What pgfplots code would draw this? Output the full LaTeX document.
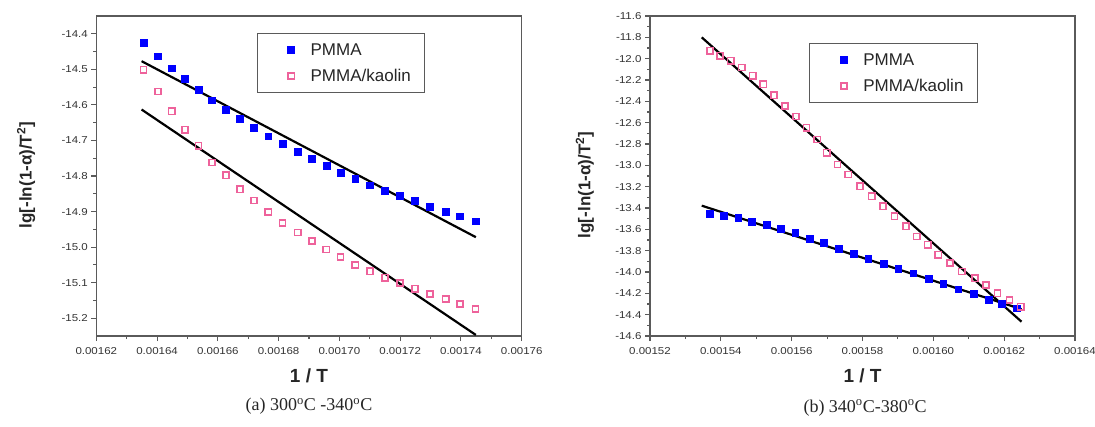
\documentclass[border=0pt]{standalone}
\usepackage{fontspec}
\setmainfont{Liberation Sans}
\newfontfamily\serifcap{Liberation Serif}
\newfontfamily\tickfont[FakeStretch=1.15]{Liberation Sans}
\usepackage{pgfplots}
\pgfplotsset{compat=1.18}
\usepackage{pgfplotstable}

\definecolor{pmmablue}{RGB}{0,0,255}
\definecolor{kaopink}{RGB}{238,98,155}
\definecolor{axgray}{RGB}{90,90,90}

\pgfplotstableread{
x yb yp
0.0016355 -14.425 -14.501
0.0016403 -14.463 -14.562
0.0016448 -14.497 -14.618
0.0016492 -14.526 -14.670
0.0016536 -14.557 -14.715
0.0016581 -14.587 -14.762
0.0016627 -14.613 -14.798
0.0016673 -14.639 -14.837
0.0016719 -14.665 -14.869
0.0016766 -14.688 -14.901
0.0016813 -14.710 -14.932
0.0016863 -14.732 -14.959
0.0016910 -14.752 -14.983
0.0016957 -14.771 -15.007
0.0017004 -14.790 -15.028
0.0017052 -14.808 -15.050
0.0017101 -14.826 -15.068
0.0017150 -14.841 -15.086
0.0017199 -14.855 -15.101
0.0017249 -14.870 -15.117
0.0017298 -14.886 -15.132
0.0017350 -14.901 -15.146
0.0017397 -14.913 -15.160
0.0017448 -14.927 -15.174
}\leftdata

\pgfplotstableread{
x y
0.0015369 -13.450
0.0015407 -13.474
0.0015449 -13.493
0.0015488 -13.528
0.0015529 -13.555
0.0015568 -13.596
0.0015610 -13.634
0.0015652 -13.685
0.0015691 -13.724
0.0015733 -13.782
0.0015774 -13.826
0.0015816 -13.874
0.0015859 -13.921
0.0015901 -13.968
0.0015943 -14.011
0.0015986 -14.060
0.0016028 -14.111
0.0016070 -14.161
0.0016113 -14.205
0.0016156 -14.262
0.0016194 -14.300
0.0016235 -14.340
}\rightblue

\pgfplotstableread{
x y
0.0015369 -11.926
0.0015398 -11.973
0.0015428 -12.020
0.0015459 -12.082
0.0015490 -12.161
0.0015520 -12.239
0.0015550 -12.343
0.0015581 -12.443
0.0015612 -12.543
0.0015642 -12.647
0.0015672 -12.757
0.0015699 -12.882
0.0015729 -12.992
0.0015760 -13.086
0.0015793 -13.196
0.0015826 -13.290
0.0015858 -13.384
0.0015890 -13.478
0.0015923 -13.572
0.0015953 -13.666
0.0015984 -13.745
0.0016014 -13.839
0.0016047 -13.917
0.0016080 -13.996
0.0016118 -14.058
0.0016149 -14.121
0.0016181 -14.199
0.0016215 -14.262
0.0016247 -14.325
}\rightpink

\pgfplotsset{
  panel/.style={
    scale only axis,
    height=320pt,
    clip mode=individual,
    axis line style={axgray, line width=1.3pt},
    tick style={axgray, line width=1.1pt},
    tick align=outside,
    xtick pos=bottom, ytick pos=left,
    major tick length=5pt, minor tick length=3pt,
    minor x tick num=1, minor y tick num=1,
    ticklabel style={font=\tickfont\fontsize{10}{12}\selectfont, text=black!80},
    xticklabel style={yshift=-3pt},
    scaled x ticks=false, scaled y ticks=false,
    xlabel={\bfseries 1 / T},
    xlabel style={font=\fontsize{19}{22}\selectfont\bfseries, text=black!85},
    ylabel={\bfseries lg[-ln(1-α)/T\textsuperscript{2}]},
    ylabel style={font=\fontsize{17}{20}\selectfont\bfseries, text=black!85},
    legend style={draw=axgray, line width=1.1pt, font=\fontsize{17}{20}\selectfont,
      anchor=north west, inner xsep=12pt, inner ysep=8pt, row sep=8pt, text=black!85,
      /tikz/every odd column/.append style={column sep=14pt}},
    legend cell align=left,
    legend image code/.code={\path[draw=none,fill=none] (0pt,0pt) rectangle (22pt,0.1pt); \draw[##1] plot[only marks] coordinates {(22pt,0pt)};},
  },
  blue pts/.style={only marks, mark=square*, mark size=3.4pt, color=pmmablue},
  pink pts/.style={only marks, mark=square, mark size=3.1pt, color=kaopink, mark options={line width=1.5pt}},
  fit line/.style={black, line width=2.2pt, forget plot},
}

\begin{document}
\begin{tikzpicture}[x=1pt,y=1pt]
\useasboundingbox (0,0) rectangle (1095,-427);

\begin{axis}[panel,
  at={(96.3pt,-336pt)}, anchor=south west,
  width=425.4pt,
  xmin=0.00162, xmax=0.00176, ymin=-15.25, ymax=-14.35,
  xtick={0.00162,0.00164,0.00166,0.00168,0.00170,0.00172,0.00174,0.00176},
  xticklabels={0.00162,0.00164,0.00166,0.00168,0.00170,0.00172,0.00174,0.00176},
  ytick={-15.2,-15.1,-15.0,-14.9,-14.8,-14.7,-14.6,-14.5,-14.4},
  yticklabels={-15.2,-15.1,-15.0,-14.9,-14.8,-14.7,-14.6,-14.5,-14.4},
  every axis x label/.append style={at={(axis description cs:0.5,-0.125)}, anchor=center},
  every axis y label/.append style={at={(axis description cs:-0.165,0.503)}, anchor=center},
  legend style={at={(0.377,0.946)}},
]
\addplot[fit line] coordinates {(0.0016349,-14.477) (0.0017449,-14.972)};
\addplot[fit line] coordinates {(0.0016349,-14.613) (0.0017449,-15.247)};
\addplot[blue pts] table[x=x,y=yb] {\leftdata};
\addlegendentry{PMMA}
\addplot[pink pts] table[x=x,y=yp] {\leftdata};
\addlegendentry{PMMA/kaolin}
\node[font=\serifcap\fontsize{18}{21}\selectfont, text=black!85] at (rel axis cs:0.5,-0.22) {(a) 300\textsuperscript{o}C -340\textsuperscript{o}C};
\end{axis}

\begin{axis}[panel,
  at={(650pt,-336pt)}, anchor=south west,
  width=425pt,
  xmin=0.00152, xmax=0.00164, ymin=-14.6, ymax=-11.6,
  xtick={0.00152,0.00154,0.00156,0.00158,0.00160,0.00162,0.00164},
  xticklabels={0.00152,0.00154,0.00156,0.00158,0.00160,0.00162,0.00164},
  ytick={-14.6,-14.4,-14.2,-14.0,-13.8,-13.6,-13.4,-13.2,-13.0,-12.8,-12.6,-12.4,-12.2,-12.0,-11.8,-11.6},
  yticklabels={-14.6,-14.4,-14.2,-14.0,-13.8,-13.6,-13.4,-13.2,-13.0,-12.8,-12.6,-12.4,-12.2,-12.0,-11.8,-11.6},
  every axis x label/.append style={at={(axis description cs:0.5,-0.125)}, anchor=center},
  every axis y label/.append style={at={(axis description cs:-0.153,0.472)}, anchor=center},
  legend style={at={(0.375,0.915)}},
]
\addplot[fit line] coordinates {(0.0015346,-11.800) (0.0016249,-14.466)};
\addplot[fit line] coordinates {(0.0015346,-13.378) (0.0016249,-14.349)};
\addplot[blue pts] table[x=x,y=y] {\rightblue};
\addlegendentry{PMMA}
\addplot[pink pts] table[x=x,y=y] {\rightpink};
\addlegendentry{PMMA/kaolin}
\node[font=\serifcap\fontsize{18}{21}\selectfont, text=black!85] at (rel axis cs:0.506,-0.224) {(b) 340\textsuperscript{o}C-380\textsuperscript{o}C};
\end{axis}
\end{tikzpicture}
\end{document}
